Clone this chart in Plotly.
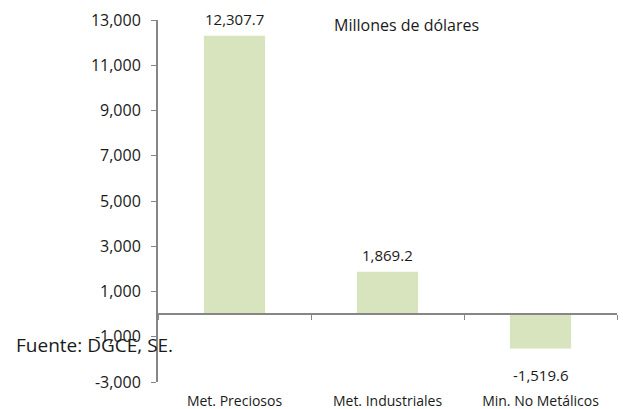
import plotly.graph_objects as go

categories = ["Met. Preciosos", "Met. Industriales", "Min. No Metálicos"]
values = [12307.7, 1869.2, -1519.6]
value_labels = ["12,307.7", "1,869.2", "-1,519.6"]
tick_vals = [-3000, -1000, 1000, 3000, 5000, 7000, 9000, 11000, 13000]
tick_text = ["-3,000", "-1,000", "1,000", "3,000", "5,000", "7,000", "9,000", "11,000", "13,000"]

FONT = "Open Sans, sans-serif"
TXT = "#1a1a1a"
AX = "#868686"

fig = go.Figure()
fig.add_trace(go.Bar(
    x=categories, y=values,
    marker=dict(color="#d7e4bd", line=dict(width=0)),
    width=0.40, xaxis="x", yaxis="y", hoverinfo="x+y",
))
# invisible trace on overlay axis drawn along the zero line
fig.add_trace(go.Scatter(x=categories, y=[0, 0, 0], mode="markers",
                         marker=dict(opacity=0), xaxis="x2", yaxis="y",
                         hoverinfo="skip", showlegend=False))

annotations = []
for c, v, t in zip(categories, values, value_labels):
    annotations.append(dict(
        x=c, y=v, xref="x", yref="y", text=t, showarrow=False,
        yanchor="middle", yshift=17 if v >= 0 else -26,
        font=dict(size=15, family=FONT, color=TXT)))
annotations.append(dict(text="Millones de dólares", x=332, y=25.5, xref="paper", yref="paper",
                        xanchor="left", yanchor="middle", showarrow=False,
                        font=dict(size=16, family=FONT, color=TXT)))
annotations.append(dict(text="Fuente: DGCE, SE.", x=14, y=345, xref="paper", yref="paper",
                        xanchor="left", yanchor="middle", showarrow=False,
                        font=dict(size=19, family=FONT, color=TXT)))

W, H = 623, 409
L, R, T, B = 158, 6, 20, 27
# convert pixel anchors of the two free texts into paper fractions
for a in annotations[-2:]:
    a["x"] = (a["x"] - L) / (W - L - R)
    a["y"] = 1 - (a["y"] - T) / (H - T - B)

fig.update_layout(
    width=W, height=H,
    margin=dict(l=L, r=R, t=T, b=B, autoexpand=False),
    paper_bgcolor="white", plot_bgcolor="white",
    showlegend=False,
    font=dict(family=FONT, size=13, color=TXT),
    xaxis=dict(type="category", range=[-0.5, 2.5], showline=False, ticks="",
               showgrid=False, zeroline=False, tickfont=dict(size=14, family=FONT, color=TXT),
               ticklabelstandoff=9),
    xaxis2=dict(type="category", range=[-0.5, 2.5], overlaying="x", anchor="free",
                position=3 / 16, showline=True, linecolor=AX, linewidth=2,
                ticks="outside", tickson="boundaries", ticklen=5, tickcolor=AX,
                tickwidth=1, showticklabels=False, showgrid=False, zeroline=False),
    yaxis=dict(range=[-3000, 13000], tickvals=tick_vals, ticktext=tick_text,
               showline=True, linecolor=AX, linewidth=2, ticks="outside",
               ticklen=5, tickcolor=AX, showgrid=False, zeroline=False,
               ticklabelstandoff=7,
               tickfont=dict(size=16, family=FONT, color=TXT)),
    annotations=annotations,
)
fig.write_html("out.html", config={"displayModeBar": False},
               post_script="document.body.style.margin='0';")
